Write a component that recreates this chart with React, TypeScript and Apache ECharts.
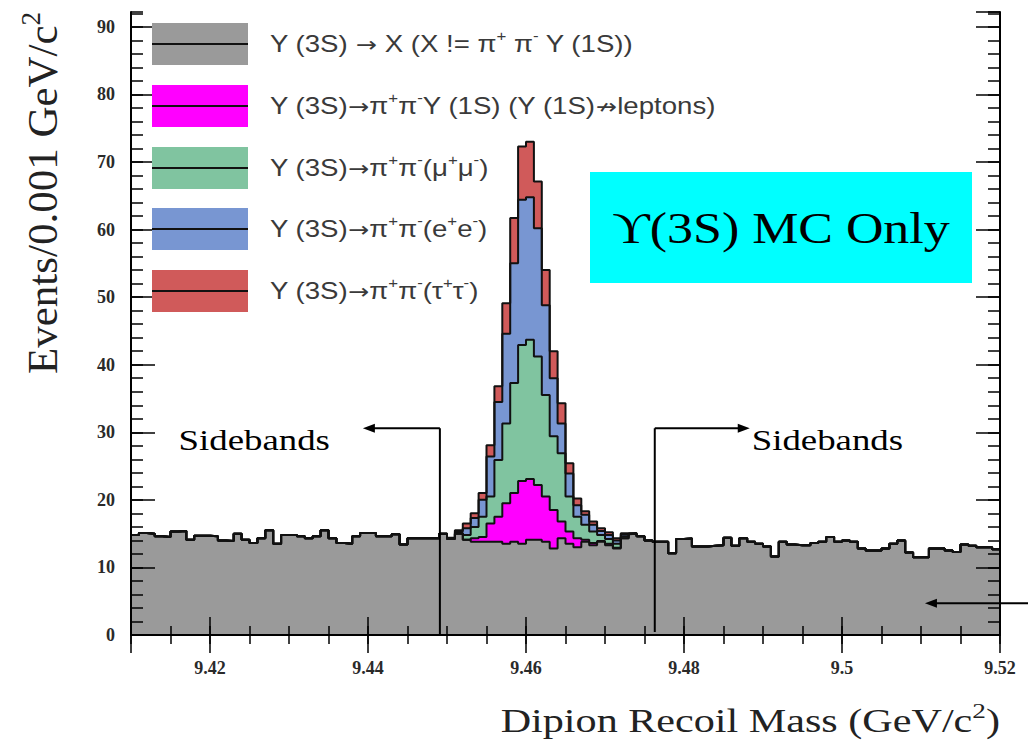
import React, { useEffect, useRef } from "react";
import * as echarts from "echarts";

// Histogram binning (GeV/c^2)
const BIN_START = 9.41;
const BIN_WIDTH = 0.001;
const X_MIN = 9.41;
const X_MAX = 9.52;
const Y_MAX = 92.2;

// Y(3S) -> X (X != pi+ pi- Y(1S)) : events per bin, all 110 bins
const BACKGROUND_COUNTS = [
  14.8, 15.1, 15.0, 14.6, 14.5, 15.3, 15.4, 14.1, 14.7, 14.7,
  14.6, 14.0, 13.9, 15.0, 14.1, 13.6, 14.3, 15.5, 13.5, 14.8,
  14.8, 14.6, 14.3, 14.6, 15.5, 14.3, 13.6, 13.5, 14.6, 15.1,
  15.1, 14.6, 14.6, 14.9, 13.4, 14.3, 14.3, 14.3, 14.3, 15.0,
  14.2, 15.0, 14.1, 13.8, 13.8, 13.8, 13.8, 13.5, 13.8, 13.5,
  14.1, 14.1, 13.8, 12.8, 14.3, 13.5, 13.0, 13.8, 13.3, 13.8,
  13.3, 12.8, 14.3, 15.0, 14.6, 14.0, 13.8, 13.8, 12.1, 14.2,
  14.3, 13.1, 13.1, 13.2, 13.3, 14.4, 13.2, 14.3, 13.8, 13.5,
  13.1, 11.6, 13.8, 13.4, 13.3, 13.3, 13.6, 13.8, 14.5, 13.8,
  14.0, 13.8, 12.8, 12.5, 12.5, 12.8, 13.5, 14.0, 12.2, 11.5,
  11.5, 12.8, 12.8, 12.5, 12.3, 13.4, 13.2, 13.0, 13.0, 12.7,
];

// Signal components live in bins 40..63 (9.450 - 9.474), zero elsewhere
const SIGNAL_FIRST_BIN = 40;
const Y1S_NONLEPTONIC = [
  0, 0, 0, 0.5, 0.7, 2.7, 3.7, 6.0, 7.2, 9.3, 9.0, 8.1,
  6.7, 5.7, 2.5, 1.8, 1.3, 0.3, 0.3, 0.1, 0.2, 0.1, 0, 0,
];
const MUMU = [
  0, 0.1, 0.7, 1.7, 3.0, 4.0, 8.4, 11.8, 16.3, 20.1, 20.6, 19.0,
  15.0, 10.9, 10.1, 5.2, 3.2, 2.2, 1.7, 0.9, 0.7, 0.6, 0.3, 0,
];
const EE = [
  0.1, 0.2, 1.0, 1.3, 2.5, 5.9, 8.6, 13.3, 17.7, 21.5, 21.1, 19.0,
  13.3, 8.6, 4.4, 3.4, 1.7, 1.5, 1.0, 0.6, 0.6, 0.5, 0.3, 0,
];
const TAUTAU = [
  0.1, 0.2, 0.7, 0.7, 1.0, 1.7, 2.3, 4.5, 6.7, 7.9, 8.2, 6.9,
  5.2, 4.0, 3.0, 1.5, 1.0, 0.5, 0.5, 0.4, 0.4, 0.3, 0.15, 0.1,
];

const COMPONENT_COLORS = ["#9a9a9a", "#ff00ff", "#80c4a0", "#7896d2", "#d05a5a"];

const LEGEND_LABELS = [
  "{n|Υ (3S) }{a|→}{n| X (X != π}{s|+}{n| π}{s|-}{n| Υ (1S))}",
  "{n|Υ (3S)}{a|→}{n|π}{s|+}{n|π}{s|-}{n|Υ (1S) (Υ (1S)}{a|↛}{n|leptons)}",
  "{n|Υ (3S)}{a|→}{n|π}{s|+}{n|π}{s|-}{n|(μ}{s|+}{n|μ}{s|-}{n|)}",
  "{n|Υ (3S)}{a|→}{n|π}{s|+}{n|π}{s|-}{n|(e}{s|+}{n|e}{s|-}{n|)}",
  "{n|Υ (3S)}{a|→}{n|π}{s|+}{n|π}{s|-}{n|(τ}{s|+}{n|τ}{s|-}{n|)}",
];

// Sideband boundaries and annotation arrow levels
const SIDEBAND_LOW = 9.4491;
const SIDEBAND_HIGH = 9.4763;
const SIDEBAND_ARROW_LEVEL = 30.6;
const BACKGROUND_ARROW = [9.5105, 4.7];

const SERIF = "'Liberation Serif', 'DejaVu Serif', 'Times New Roman', serif";
const SANS = "'Liberation Sans', 'DejaVu Sans', Arial, sans-serif";

function expandSignal(values: number[]): number[] {
  const out = new Array(BACKGROUND_COUNTS.length).fill(0);
  values.forEach((v, k) => {
    out[SIGNAL_FIRST_BIN + k] = v;
  });
  return out;
}

function binPoints(values: number[]): number[][] {
  const pts = values.map((v, i) => [+(BIN_START + i * BIN_WIDTH).toFixed(4), v]);
  pts.push([X_MAX, values[values.length - 1]]);
  return pts;
}

const COMPONENTS = [
  BACKGROUND_COUNTS,
  expandSignal(Y1S_NONLEPTONIC),
  expandSignal(MUMU),
  expandSignal(EE),
  expandSignal(TAUTAU),
];

// Cumulative layer tops: each layer is drawn from zero, largest first
function cumulativeLayers(): number[][] {
  const layers: number[][] = [];
  let running = new Array(BACKGROUND_COUNTS.length).fill(0);
  COMPONENTS.forEach((vals) => {
    running = running.map((r, i) => +(r + vals[i]).toFixed(3));
    layers.push(running);
  });
  return layers;
}

function buildSeries() {
  const layers = cumulativeLayers();
  const order = [4, 3, 2, 1, 0];
  const fills = order.map((k) => ({
    type: "line",
    data: binPoints(layers[k]),
    xAxisIndex: 0,
    yAxisIndex: 0,
    step: "end",
    symbol: "none",
    silent: true,
    lineStyle: { width: 0, opacity: 0 },
    areaStyle: { color: COMPONENT_COLORS[k], opacity: 1 },
    z: 2,
  }));
  const outlines = order.map((k) => ({
    type: "line",
    data: binPoints(layers[k]),
    xAxisIndex: 0,
    yAxisIndex: 0,
    step: "end",
    symbol: "none",
    silent: true,
    lineStyle: { color: "#111", width: 2 },
    z: 3,
  }));
  return [...fills, ...outlines];
}

const tickStyle = { color: "#000", width: 1.5 };

function xAxisDef(position: "top" | "bottom", minor: boolean, labels: boolean) {
  return {
    type: "value",
    position,
    min: X_MIN,
    max: X_MAX,
    ...(minor ? { interval: 0.005 } : { splitNumber: 5 }),
    z: 5,
    axisLine: { show: !minor, lineStyle: { color: "#000", width: 2 } },
    axisTick: { show: true, inside: true, length: minor ? 9 : 18, lineStyle: tickStyle },
    axisLabel: labels
      ? {
          show: true,
          showMinLabel: false,
          margin: 24,
          fontFamily: SERIF,
          fontWeight: "bold",
          fontSize: 18,
          color: "#2a2a2a",
          formatter: (v: number) => String(parseFloat(v.toFixed(3))),
        }
      : { show: false },
    splitLine: { show: false },
  };
}

function yAxisDef(position: "left" | "right", minor: boolean, labels: boolean) {
  return {
    type: "value",
    position,
    min: 0,
    max: Y_MAX,
    interval: minor ? 2 : 10,
    z: 5,
    axisLine: { show: !minor, lineStyle: { color: "#000", width: 2 } },
    axisTick: { show: true, inside: true, length: minor ? 12 : 24, lineStyle: tickStyle },
    axisLabel: labels
      ? {
          show: true,
          showMaxLabel: false,
          margin: 16,
          fontFamily: SERIF,
          fontWeight: "bold",
          fontSize: 18,
          color: "#2a2a2a",
        }
      : { show: false },
    splitLine: { show: false },
  };
}

function arrowHead(tipX: number, tipY: number, dir: 1 | -1) {
  return {
    type: "polygon",
    z: 20,
    silent: true,
    shape: {
      points: [
        [tipX, tipY],
        [tipX - dir * 12, tipY - 4.5],
        [tipX - dir * 12, tipY + 4.5],
      ],
    },
    style: { fill: "#000" },
  };
}

function segment(x1: number, y1: number, x2: number, y2: number) {
  return {
    type: "line",
    z: 20,
    silent: true,
    shape: { x1, y1, x2, y2 },
    style: { stroke: "#000", lineWidth: 2 },
  };
}

export default function App() {
  const ref = useRef<HTMLDivElement>(null);

  useEffect(() => {
    const el = ref.current;
    if (!el) return;
    const chart = echarts.init(el, undefined, { renderer: "svg" });

    chart.setOption({
      animation: false,
      backgroundColor: "#ffffff",
      grid: { left: 131, right: 28, top: 12, bottom: 116, show: false },
      xAxis: [
        xAxisDef("bottom", false, true),
        xAxisDef("bottom", true, false),
        xAxisDef("top", false, false),
        xAxisDef("top", true, false),
      ],
      yAxis: [
        yAxisDef("left", false, true),
        yAxisDef("left", true, false),
        yAxisDef("right", false, false),
        yAxisDef("right", true, false),
      ],
      series: buildSeries(),
    });

    const toPx = (x: number, y: number) =>
      chart.convertToPixel({ seriesIndex: 0 }, [x, y]) as number[];

    const [lowX, arrowY] = toPx(SIDEBAND_LOW, SIDEBAND_ARROW_LEVEL);
    const [highX] = toPx(SIDEBAND_HIGH, SIDEBAND_ARROW_LEVEL);
    const [, baseY] = toPx(SIDEBAND_LOW, 0);
    const [bgTipX, bgTipY] = toPx(BACKGROUND_ARROW[0], BACKGROUND_ARROW[1]);

    const legendRows = [44, 106, 168, 229, 291];
    const legendRich = {
      n: { fontFamily: SANS, fontSize: 23, lineHeight: 30, fill: "#3a3a3a" },
      a: { fontFamily: "'DejaVu Sans', sans-serif", fontSize: 21, lineHeight: 30, fill: "#3a3a3a" },
      s: { fontFamily: SANS, fontSize: 14, lineHeight: 14, verticalAlign: "top", fill: "#3a3a3a" },
    };
    const legend = LEGEND_LABELS.flatMap((label, k) => {
      const cy = legendRows[k];
      return [
        {
          type: "rect",
          z: 15,
          silent: true,
          shape: { x: 152, y: cy - 21, width: 96, height: 42 },
          style: { fill: COMPONENT_COLORS[k] },
        },
        {
          type: "line",
          z: 16,
          silent: true,
          shape: { x1: 152, y1: cy, x2: 248, y2: cy },
          style: { stroke: "#111", lineWidth: 2 },
        },
        {
          type: "text",
          z: 16,
          silent: true,
          x: 270,
          y: cy,
          scaleX: 1.2,
          style: {
            text: label,
            align: "left",
            verticalAlign: "middle",
            fill: "#3a3a3a",
            rich: legendRich,
          },
        },
      ];
    });

    chart.setOption({
      graphic: {
        elements: [
          ...legend,
          {
            type: "rect",
            z: 15,
            silent: true,
            shape: { x: 590, y: 172, width: 382, height: 111 },
            style: { fill: "#00ffff" },
          },
          {
            type: "text",
            z: 16,
            silent: true,
            x: 781,
            y: 228,
            scaleX: 1.18,
            style: {
              text: "ϒ(3S) MC Only",
              align: "center",
              verticalAlign: "middle",
              fontFamily: SERIF,
              fontSize: 44,
              fill: "#000",
            },
          },
          // Axis titles
          {
            type: "text",
            silent: true,
            x: 1000,
            y: 720,
            scaleX: 1.24,
            style: {
              text: "{n|Dipion Recoil Mass (GeV/c}{s|2}{n|)}",
              align: "right",
              verticalAlign: "middle",
              rich: {
                n: { fontFamily: SERIF, fontSize: 34, lineHeight: 42, fill: "#222" },
                s: { fontFamily: SERIF, fontSize: 22, lineHeight: 22, verticalAlign: "top", fill: "#222" },
              },
            },
          },
          {
            type: "text",
            silent: true,
            x: 42,
            y: 193,
            rotation: Math.PI / 2,
            style: {
              text: "{n|Events/0.001 GeV/c}{s|2}",
              align: "center",
              verticalAlign: "middle",
              rich: {
                n: { fontFamily: SERIF, fontSize: 43, lineHeight: 50, fill: "#222" },
                s: { fontFamily: SERIF, fontSize: 27, lineHeight: 26, verticalAlign: "top", fill: "#222" },
              },
            },
          },
          // Sideband markers
          segment(lowX, arrowY, lowX, baseY),
          segment(lowX, arrowY, lowX - 70, arrowY),
          arrowHead(lowX - 77, arrowY, -1),
          {
            type: "text",
            z: 20,
            silent: true,
            x: lowX - 110,
            y: arrowY + 12,
            scaleX: 1.27,
            style: {
              text: "Sidebands",
              align: "right",
              verticalAlign: "middle",
              fontFamily: SERIF,
              fontSize: 29,
              fill: "#000",
            },
          },
          segment(highX, arrowY, highX, baseY - 3),
          segment(highX, arrowY, highX + 88, arrowY),
          arrowHead(highX + 95, arrowY, 1),
          {
            type: "text",
            z: 20,
            silent: true,
            x: highX + 97,
            y: arrowY + 12,
            scaleX: 1.27,
            style: {
              text: "Sidebands",
              align: "left",
              verticalAlign: "middle",
              fontFamily: SERIF,
              fontSize: 29,
              fill: "#000",
            },
          },
          // Background pointer entering from the right
          segment(1028, bgTipY, bgTipX + 8, bgTipY),
          arrowHead(bgTipX, bgTipY, -1),
        ],
      },
    });

    return () => chart.dispose();
  }, []);

  return (
    <div
      ref={ref}
      style={{ position: "fixed", left: 0, top: 0, width: 1028, height: 751, background: "#fff" }}
    />
  );
}
